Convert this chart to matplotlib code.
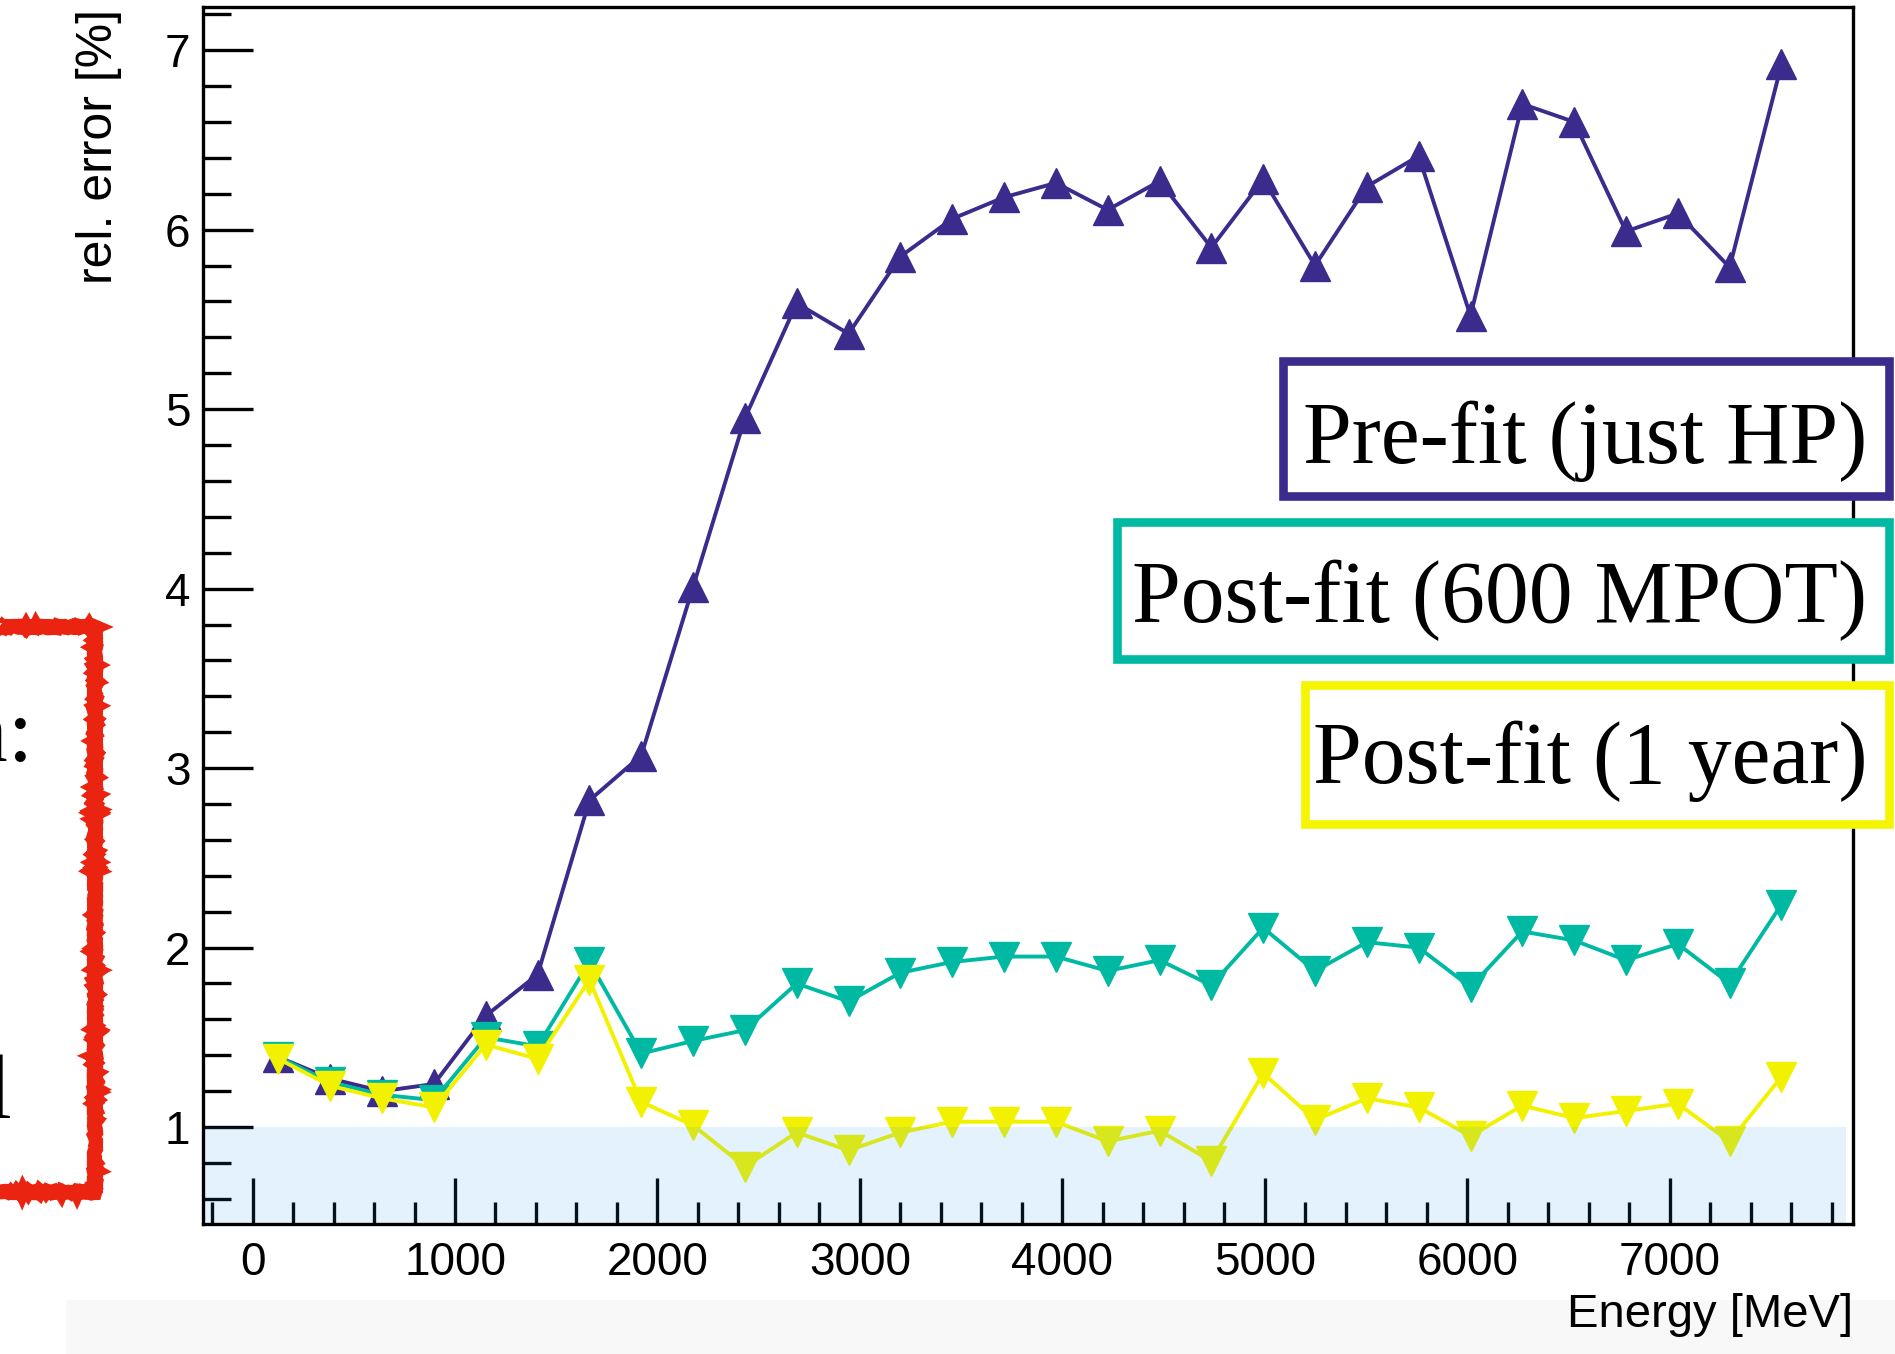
import matplotlib.pyplot as plt
from matplotlib.patches import Rectangle

# energy bin centres [MeV]
energy = [128, 384, 640, 896, 1152, 1408, 1664, 1920, 2176, 2432,
          2688, 2944, 3200, 3456, 3712, 3968, 4224, 4480, 4736, 4992,
          5248, 5504, 5760, 6016, 6272, 6528, 6784, 7040, 7296, 7552]

# relative error [%]
pre_fit = [1.39, 1.27, 1.20, 1.24, 1.62, 1.85, 2.82, 3.07, 4.01, 4.95,
           5.59, 5.42, 5.85, 6.06, 6.18, 6.26, 6.11, 6.27, 5.90, 6.28,
           5.80, 6.24, 6.41, 5.52, 6.70, 6.60, 5.99, 6.09, 5.79, 6.92]
post_600 = [1.39, 1.25, 1.18, 1.15, 1.50, 1.45, 1.92, 1.41, 1.48, 1.54,
            1.80, 1.70, 1.86, 1.92, 1.95, 1.95, 1.87, 1.93, 1.79, 2.11,
            1.87, 2.03, 2.00, 1.78, 2.09, 2.04, 1.93, 2.02, 1.80, 2.24]
post_year = [1.38, 1.23, 1.16, 1.11, 1.46, 1.38, 1.82, 1.14, 1.01, 0.78,
             0.97, 0.87, 0.97, 1.03, 1.03, 1.03, 0.92, 0.98, 0.81, 1.30,
             1.04, 1.16, 1.11, 0.95, 1.12, 1.05, 1.09, 1.13, 0.92, 1.28]

labels = ['Pre-fit (just HP)', 'Post-fit (600 MPOT)', 'Post-fit (1 year)']
colors = ['#3a2b8c', '#00b9a2', '#f2f200']
box_colors = ['#3a2b8c', '#00b9a2', '#f5f500']

fig = plt.figure(figsize=(18.95, 13.54), dpi=100)

# slide background strip at the bottom
fig.add_artist(Rectangle((0.035, 0.0), 0.97, 0.04, transform=fig.transFigure,
                         facecolor='#f8f8f8', edgecolor='none', zorder=0))

ax = fig.add_axes([0.1071, 0.0960, 0.8707, 0.8988])

ax.plot(energy, pre_fit, color=colors[0], marker='^', markersize=21, linewidth=2.8)
ax.plot(energy, post_600, color=colors[1], marker='v', markersize=21, linewidth=2.8)
ax.plot(energy, post_year, color=colors[2], marker='v', markersize=21, linewidth=2.8)

# region below 1 %
ax.axhspan(0, 1.0, xmin=0, xmax=0.996, facecolor=(31/255, 151/255, 240/255),
           alpha=0.12, edgecolor='none', zorder=2.2)

ax.set_xlim(-245, 7905)
ax.set_ylim(0.46, 7.24)
ax.set_xticks(range(0, 8000, 1000))
ax.set_xticks(range(-200, 7900, 200), minor=True)
ax.set_yticks(range(1, 8))
ax.set_yticks([v / 5 for v in range(3, 37)], minor=True)

for s in ax.spines.values():
    s.set_linewidth(2.4)
ax.tick_params(which='both', direction='in', width=2.4, labelsize=33,
               labelfontfamily='Liberation Sans')
ax.tick_params(axis='y', which='major', length=36, pad=9)
ax.tick_params(axis='y', which='minor', length=20)
ax.tick_params(axis='x', which='major', length=33, pad=12)
ax.tick_params(axis='x', which='minor', length=16)

fig.text(0.9777, 0.020, 'Energy [MeV]', ha='right', va='baseline',
         fontsize=34, family='Liberation Sans')
fig.text(0.0524, 0.9935, 'rel. error [%]', rotation=90, ha='center', va='top',
         fontsize=36, family='Liberation Sans')

# legend boxes
boxes = [(0.6773, 0.634, 0.7331), (0.5893, 0.5135, 0.6144), (0.6888, 0.3912, 0.4939)]
baselines = [0.6581, 0.5403, 0.4216]
for (x0, y0, y1), base, lab, bc in zip(boxes, baselines, labels, box_colors):
    fig.add_artist(Rectangle((x0, y0), 0.9968 - x0, y1 - y0, transform=fig.transFigure,
                             facecolor='white', edgecolor=bc, linewidth=6.2, zorder=5))
    fig.text(0.9854, base, lab, ha='right', va='baseline', fontsize=63,
             family='Liberation Serif', zorder=6)

# hand drawn red frame of the neighbouring slide text
frame = Rectangle((-0.1, 0.1196), 0.1501, 0.5369 - 0.1196, transform=fig.transFigure,
                  facecolor='none', edgecolor='#ea2410', linewidth=10,
                  joinstyle='miter', zorder=5)
frame.set_sketch_params(scale=1.2, length=8, randomness=6)
fig.add_artist(frame)
fig.text(0.018, 0.438, 'calibration:', ha='right', va='baseline', fontsize=66,
         family='Liberation Serif')
fig.text(0.0063, 0.1743, 'model', ha='right', va='baseline', fontsize=66,
         family='Liberation Serif')

fig.savefig('out.png', dpi=100)
